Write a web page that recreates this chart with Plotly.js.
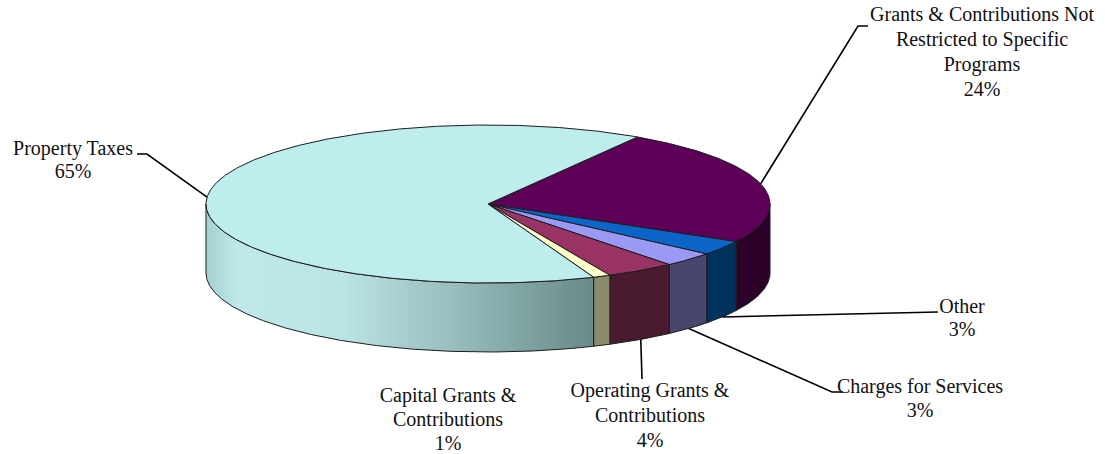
<!DOCTYPE html>
<html>
<head>
<meta charset="utf-8">
<script src="https://cdn.plot.ly/plotly-3.0.1.min.js"></script>
<style>html,body{margin:0;padding:0;background:#fff;}#chart{width:1105px;height:454px;}</style>
</head>
<body>
<div id="chart"></div>
<script>
// ---- data (clockwise from the top boundary) ----
const labels = ['Grants & Contributions Not Restricted to Specific Programs', 'Other', 'Charges for Services', 'Operating Grants & Contributions', 'Capital Grants & Contributions', 'Property Taxes'];
const values = [24, 3, 3, 4, 1, 65];
const labelLines = [
  ['Grants & Contributions Not', 'Restricted to Specific', 'Programs'],
  ['Other'],
  ['Charges for Services'],
  ['Operating Grants &', 'Contributions'],
  ['Capital Grants &', 'Contributions'],
  ['Property Taxes']
];
const topColors = ['#5E0058', '#0B65C9', '#9A99F6', '#993366', '#FFFFCC', '#BDEDED'];
const sideColors = ['#2B0029', '#00325E', '#46466F', '#4A1A30', '#8C8A6C', '#9EC4C4'];

// ---- layout / geometry (not data) ----
const G = {cx: 488, cy: 204, a: 282, b: 79, depth: 69, startDeg: 58};
const labelPos = [
  {x: 982, y: 16, dy: 25, leader: [[858, 26], [868, 26]]},
  {x: 962, y: 308, dy: 23, leader: [[930, 312], [938, 312]]},
  {x: 920, y: 388, dy: 24, leader: [[832, 392], [843, 392]]},
  {x: 650, y: 392, dy: 25, leader: [[642, 379]]},
  {x: 448, y: 397, dy: 24, leader: null},
  {x: 73, y: 150, dy: 23, leader: [[147, 154], [137, 154]]}
];
const FONT = 'Times New Roman';

const rad = d => d * Math.PI / 180;
function pt(deg, dz) {
  return [G.cx + G.a * Math.cos(rad(deg)), G.cy - G.b * Math.sin(rad(deg)) + (dz || 0)];
}
function arc(d0, d1, dz) {
  const n = Math.max(2, Math.ceil(Math.abs(d1 - d0) * 2));
  const out = [];
  for (let i = 0; i <= n; i++) out.push(pt(d0 + (d1 - d0) * i / n, dz));
  return out;
}

const total = values.reduce((s, v) => s + v, 0);
const slices = [];
let cur = G.startDeg;
values.forEach((v, i) => {
  const span = v / total * 360;
  slices.push({i, d0: cur, d1: cur - span, mid: cur - span / 2});
  cur -= span;
});

const sideTraces = [], topTraces = [], lineTraces = [];
slices.forEach(s => {
  for (let k = -1; k <= 1; k++) {
    const lo = -180 + 360 * k, hi = 360 * k;
    const a0 = Math.min(s.d0, hi), a1 = Math.max(s.d1, lo);
    if (a0 - a1 > 0.01) {
      const topArc = arc(a0, a1, 0);
      const botArc = arc(a1, a0, G.depth);
      const poly = topArc.concat(botArc);
      poly.push(topArc[0]);
      const tr = {
        type: 'scatter', mode: 'lines', hoverinfo: 'skip', showlegend: false,
        x: poly.map(p => p[0]), y: poly.map(p => p[1]),
        fill: 'toself', fillcolor: sideColors[s.i],
        line: {color: '#1c1c1c', width: 1}
      };
      if (s.i === values.length - 1) {
        tr.fillgradient = {type: 'horizontal', colorscale: [
          [0, '#A4D0D0'], [0.08, '#BFE9E9'], [0.35, '#BBE4E4'], [0.62, '#9AC0C0'], [1, '#688A88']
        ]};
      }
      sideTraces.push(tr);
    }
  }
  const t = [[G.cx, G.cy]].concat(arc(s.d0, s.d1, 0));
  t.push([G.cx, G.cy]);
  topTraces.push({
    type: 'scatter', mode: 'lines', hoverinfo: 'skip', showlegend: false,
    x: t.map(p => p[0]), y: t.map(p => p[1]),
    fill: 'toself', fillcolor: topColors[s.i],
    line: {color: '#1c1c1c', width: 1}
  });
  const lp = labelPos[s.i];
  if (lp.leader) {
    const m = ((s.mid % 360) + 360) % 360;
    const front = m > 180;
    const anchor = pt(s.mid, front ? G.depth : 0);
    const path = [anchor].concat(lp.leader);
    lineTraces.push({
      type: 'scatter', mode: 'lines', hoverinfo: 'skip', showlegend: false,
      x: path.map(p => p[0]), y: path.map(p => p[1]),
      line: {color: '#000', width: 1.6}
    });
  }
});

// labels as a text trace
const tx = [], ty = [], tt = [];
slices.forEach(s => {
  const lp = labelPos[s.i];
  const lines = labelLines[s.i].concat([values[s.i] + '%']);
  lines.forEach((txt, j) => {
    tx.push(lp.x); ty.push(lp.y + j * lp.dy);
    tt.push(txt.replace(/&/g, '&amp;'));
  });
});
const textTrace = {
  type: 'scatter', mode: 'text', x: tx, y: ty, text: tt,
  textposition: 'middle center', hoverinfo: 'skip', showlegend: false,
  textfont: {family: FONT, size: 20, color: '#111'}, cliponaxis: false
};

const layout = {
  width: 1105, height: 454, autosize: false,
  margin: {l: 0, r: 0, t: 0, b: 0, pad: 0},
  paper_bgcolor: '#fff', plot_bgcolor: '#fff',
  xaxis: {range: [0, 1105], visible: false, fixedrange: true},
  yaxis: {range: [454, 0], visible: false, fixedrange: true},
  showlegend: false
};
Plotly.newPlot('chart', sideTraces.concat(topTraces, lineTraces, [textTrace]), layout, {displayModeBar: false, staticPlot: true});
</script>
</body>
</html>
